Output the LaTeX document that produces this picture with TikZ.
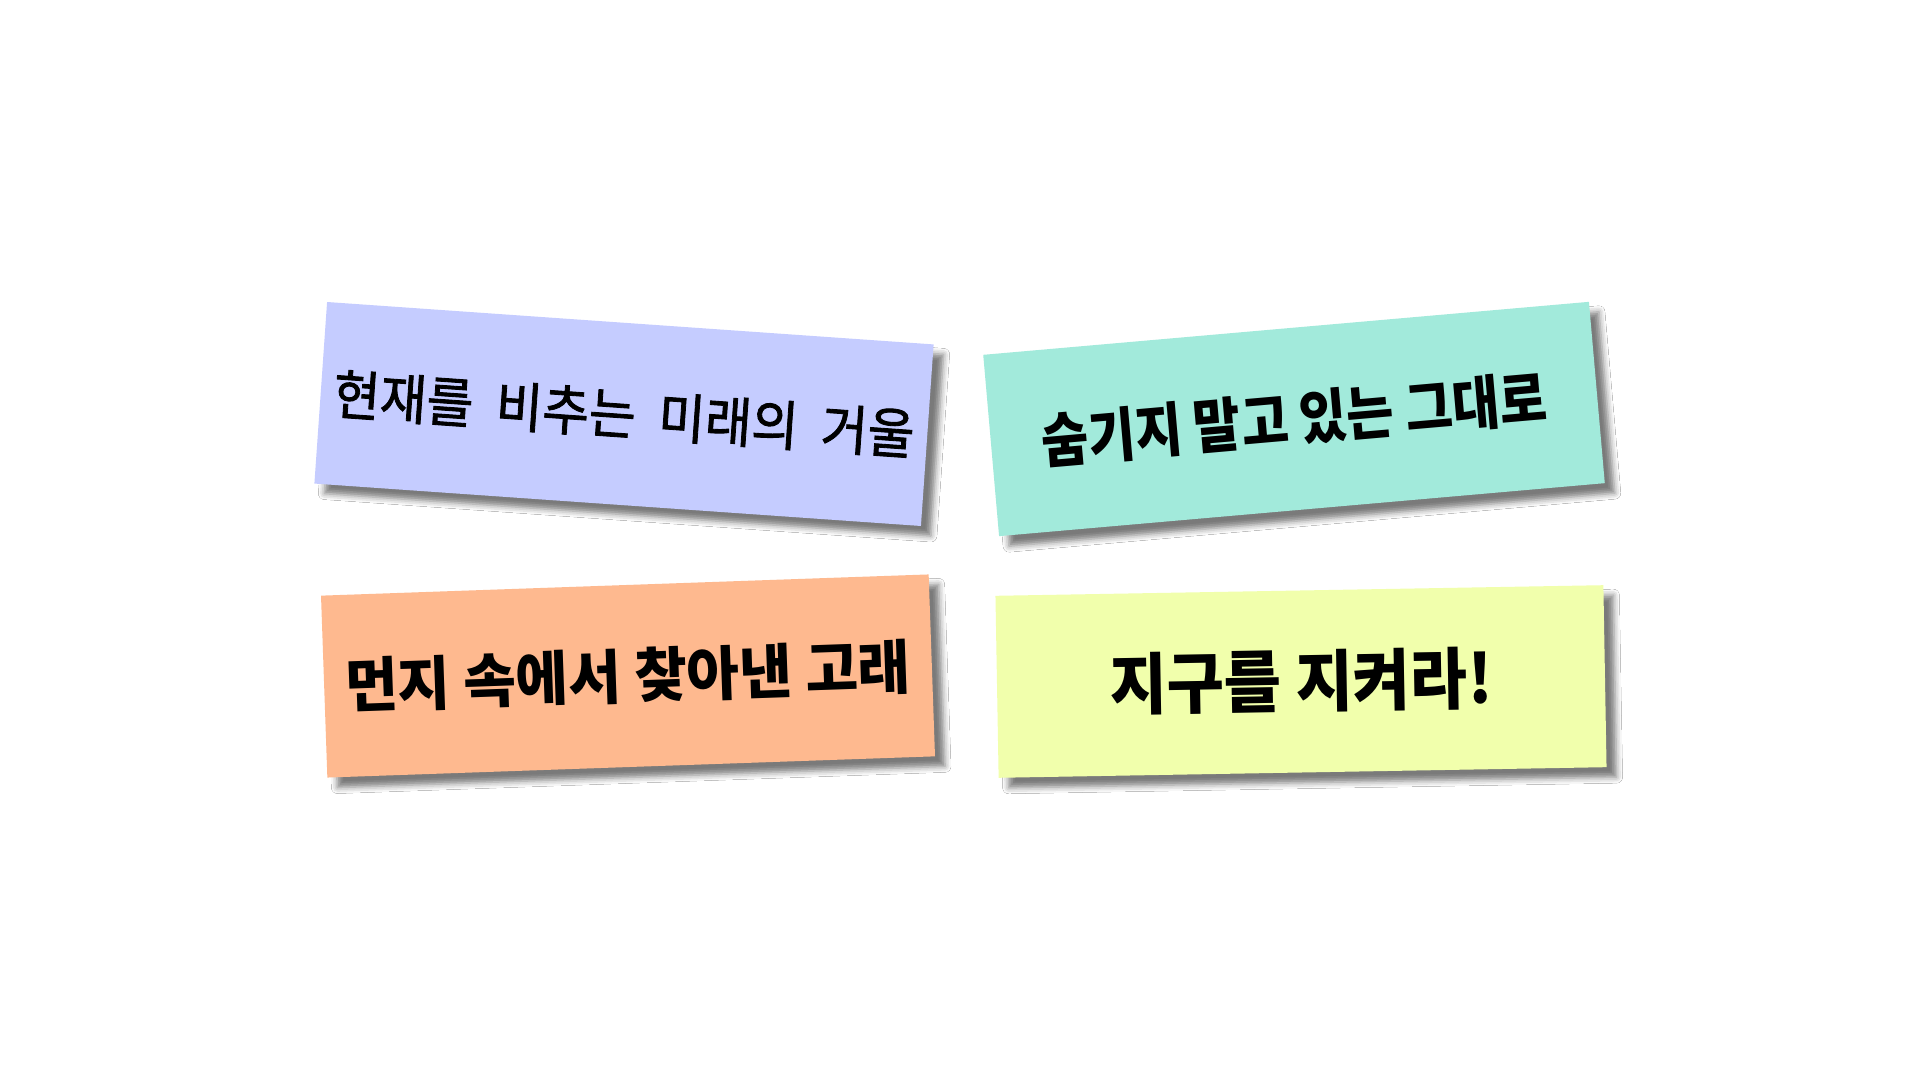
\documentclass[tikz,border=0pt]{standalone}
\usepackage{fontspec}
\usepackage{graphicx}
\usetikzlibrary{shadows.blur}
\newfontfamily\krfont{Noto Sans CJK KR}
\newfontfamily\krhand{Noto Sans CJK KR}[FakeBold=1.6]
\definecolor{cardblue}{RGB}{197,204,255}
\definecolor{cardteal}{RGB}{162,234,219}
\definecolor{cardorange}{RGB}{254,185,143}
\definecolor{cardyellow}{RGB}{241,255,172}
\tikzset{
  card/.style={minimum width=608pt, minimum height=182pt, inner sep=0pt,
    blur shadow={shadow xshift=10pt, shadow yshift=-10pt, shadow blur radius=6pt, shadow opacity=52}},
}
\begin{document}
\begin{tikzpicture}[x=1pt,y=1pt]
\fill[white] (0,0) rectangle (1920,1080);
\useasboundingbox (0,0) rectangle (1920,1080);
\node[card, fill=cardblue, rotate=-4] (c1) at (624,666)
  {\krhand\fontsize{54}{60}\selectfont\scalebox{0.94}[1]{현재를\hspace{0.45em}비추는\hspace{0.45em}미래의\hspace{0.45em}거울}};
\node[card, fill=cardteal, rotate=5] (c2) at (1294,661)
  {\krfont\bfseries\fontsize{59}{66}\selectfont\scalebox{0.87}[1]{숨기지 말고 있는 그대로}};
\node[card, fill=cardorange, rotate=2] (c3) at (628,404)
  {\krfont\bfseries\fontsize{59}{66}\selectfont\scalebox{0.97}[1]{먼지 속에서 찾아낸 고래}};
\node[card, fill=cardyellow, rotate=1] (c4) at (1301,398.5)
  {\krfont\bfseries\fontsize{67}{74}\selectfont\scalebox{0.93}[1]{지구를 지켜라!}};
\end{tikzpicture}
\end{document}
